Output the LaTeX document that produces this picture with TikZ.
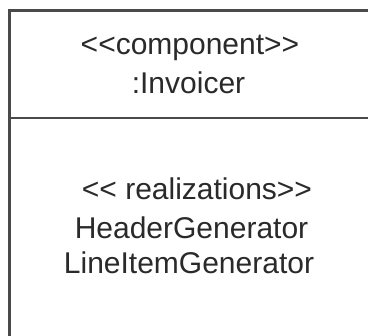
\documentclass[tikz,border=0pt]{standalone}
\usepackage{fontspec}
\setmainfont[Ligatures=NoCommon]{Liberation Sans}
\definecolor{ink}{HTML}{2A2A2A}
\definecolor{edge}{HTML}{4A4A4A}
\begin{document}
\begin{tikzpicture}[x=1pt,y=-1pt,
  lbl/.style={anchor=base,inner sep=0pt,text=ink,font=\fontsize{30}{36}\selectfont},
  frame/.style={draw=edge,line width=2.6pt},
  divider/.style={draw=edge,line width=1.6pt}]
\useasboundingbox (0,0) rectangle (368,336);
\clip (0,0) rectangle (368,336);
\fill[white] (0,0) rectangle (368,336);
\node[frame,rectangle,minimum width=400pt,minimum height=400pt,anchor=north west,inner sep=0pt] (box) at (8.5,9.5) {};
\coordinate (dl) at (8.5,118);
\coordinate (dr) at (380,118);
\draw[divider] (dl) -- (dr);
\node[lbl] (st) at (190,55) {{<}{<}component{>}{>}};
\node[lbl] (nm) at (188.5,94) {:Invoicer};
\node[lbl] (rs) at (197,200) {{<}{<} realizations{>}{>}};
\node[lbl] (hg) at (191.5,239) {HeaderGenerator};
\node[lbl] (lg) at (189,274) {LineItemGenerator};
\end{tikzpicture}
\end{document}
